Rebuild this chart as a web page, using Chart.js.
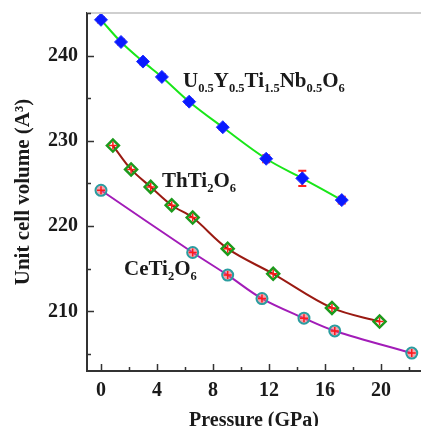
<!DOCTYPE html>
<html>
<head>
<meta charset="utf-8">
<script src="https://cdn.jsdelivr.net/npm/chart.js@4.4.0/dist/chart.umd.min.js"></script>
<style>
  html, body { margin: 0; padding: 0; background: #fff; overflow: hidden; }
  canvas { display: block; }
</style>
</head>
<body>
<canvas id="grafico" width="421" height="426"></canvas>
<script>
// Dados
const pressaoU = [0, 1.43, 3.0, 4.35, 6.3, 8.7, 11.8, 14.38, 17.2];
const volumeU  = [244.2, 241.6, 239.3, 237.5, 234.6, 231.6, 227.9, 225.6, 223.05];
const erroU    = [0.3, 0.3, 0.3, 0.3, 0.3, 0.3, 0.4, 0.9, 0.4];

const pressaoTh = [0.85, 2.15, 3.55, 5.05, 6.55, 9.05, 12.3, 16.5, 19.9];
const volumeTh  = [229.45, 226.65, 224.6, 222.45, 221.0, 217.35, 214.4, 210.4, 208.8];

const pressaoCe = [0, 6.55, 9.05, 11.5, 14.5, 16.7, 22.2];
const volumeCe  = [224.2, 216.9, 214.25, 211.5, 209.2, 207.7, 205.1];

const ticksX = [0, 4, 8, 12, 16, 20];
const ticksY = [210, 220, 230, 240];
const menoresX = [2, 6, 10, 14, 18, 22];
const menoresY = [205, 215, 225, 235, 245];

const fonte = '"Liberation Serif", "Times New Roman", serif';

function pontos(xs, ys) {
    return xs.map((x, i) => ({ x: x, y: ys[i] }));
}

// Textos com subscritos
const rotulos = [
    { x: 183, y: 87, partes: [['U', 0], ['0.5', 1], ['Y', 0], ['0.5', 1], ['Ti', 0], ['1.5', 1], ['Nb', 0], ['0.5', 1], ['O', 0], ['6', 1]] },
    { x: 162, y: 187, partes: [['ThTi', 0], ['2', 1], ['O', 0], ['6', 1]] },
    { x: 124, y: 275, partes: [['CeTi', 0], ['2', 1], ['O', 0], ['6', 1]] }
];

const pluginExtras = {
    id: 'extras',
    afterLayout(chart) {
        // a area do grafico vai ate a borda direita da imagem
        const s = chart.scales.x;
        const a = chart.chartArea;
        s.right = chart.width;
        s.width = s.right - s.left;
        s.configure();
        a.right = chart.width;
        a.width = a.right - a.left;
    },
    beforeDatasetsDraw(chart) {
        const ctx = chart.ctx;
        const sx = chart.scales.x, sy = chart.scales.y;
        // barras de erro (U)
        ctx.save();
        ctx.strokeStyle = '#ff2020';
        ctx.lineWidth = 2;
        pressaoU.forEach((p, i) => {
            const px = sx.getPixelForValue(p);
            const y1 = sy.getPixelForValue(volumeU[i] + erroU[i]);
            const y2 = sy.getPixelForValue(volumeU[i] - erroU[i]);
            ctx.beginPath();
            ctx.moveTo(px, y1); ctx.lineTo(px, y2);
            ctx.moveTo(px - 4, y1); ctx.lineTo(px + 4, y1);
            ctx.moveTo(px - 4, y2); ctx.lineTo(px + 4, y2);
            ctx.stroke();
        });
        ctx.restore();
    },
    afterDraw(chart) {
        const ctx = chart.ctx;
        const a = chart.chartArea;
        const sx = chart.scales.x, sy = chart.scales.y;
        ctx.save();
        // borda superior
        ctx.strokeStyle = '#cfcfcf';
        ctx.lineWidth = 2;
        ctx.beginPath();
        ctx.moveTo(a.left, a.top); ctx.lineTo(a.right, a.top);
        ctx.stroke();
        // ticks para dentro
        ctx.strokeStyle = '#333';
        ctx.lineWidth = 1.5;
        ctx.beginPath();
        ticksX.concat(menoresX).forEach(v => {
            const px = Math.round(sx.getPixelForValue(v)) + 0.5;
            const len = ticksX.includes(v) ? 7 : 4;
            ctx.moveTo(px, a.bottom); ctx.lineTo(px, a.bottom - len);
        });
        ticksY.concat(menoresY).forEach(v => {
            const py = Math.round(sy.getPixelForValue(v)) + 0.5;
            const len = ticksY.includes(v) ? 7 : 4;
            ctx.moveTo(a.left, py); ctx.lineTo(a.left + len, py);
        });
        ctx.stroke();
        // rotulos das series
        ctx.fillStyle = '#1a1a1a';
        ctx.textBaseline = 'alphabetic';
        rotulos.forEach(r => {
            let x = r.x;
            r.partes.forEach(([t, sub]) => {
                ctx.font = sub ? `bold 12.5px ${fonte}` : `bold 21px ${fonte}`;
                ctx.fillText(t, x, sub ? r.y + 5 : r.y);
                x += ctx.measureText(t).width;
            });
        });
        ctx.restore();
    }
};

const linha = (xs, ys, cor) => ({
    data: pontos(xs, ys),
    showLine: true,
    borderColor: cor,
    borderWidth: 2,
    pointRadius: 0,
    tension: 0.35,
    order: 5
});

new Chart(document.getElementById('grafico'), {
    type: 'scatter',
    data: {
        datasets: [
            linha(pressaoU, volumeU, '#19e619'),
            linha(pressaoTh, volumeTh, '#9a1a12'),
            linha(pressaoCe, volumeCe, '#a21cb8'),
            {
                data: pontos(pressaoU, volumeU),
                pointStyle: 'rectRot', pointRadius: 6.5,
                backgroundColor: '#0a1aff', borderColor: '#2030ff', borderWidth: 1,
                order: 2
            },
            {
                data: pontos(pressaoTh, volumeTh),
                pointStyle: 'rectRot', pointRadius: 6,
                backgroundColor: 'rgba(255,255,255,0)', borderColor: '#1c9a1c', borderWidth: 2.5,
                order: 2
            },
            {
                data: pontos(pressaoCe, volumeCe),
                pointStyle: 'circle', pointRadius: 5.5,
                backgroundColor: 'rgba(235,90,110,0.55)', borderColor: '#2a9da0', borderWidth: 2,
                order: 2
            },
            {
                data: pontos(pressaoTh, volumeTh).concat(pontos(pressaoCe, volumeCe)),
                pointStyle: 'cross', pointRadius: 4,
                borderColor: '#ff1a1a', borderWidth: 1.5,
                order: 1
            }
        ]
    },
    options: {
        responsive: false,
        animation: false,
        devicePixelRatio: 1,
        layout: { padding: { top: 13, right: 0, left: 0, bottom: 0 } },
        plugins: { legend: { display: false }, tooltip: { enabled: false } },
        scales: {
            x: {
                type: 'linear',
                min: -1,
                max: 22.86,
                afterBuildTicks: s => { s.ticks = ticksX.map(v => ({ value: v })); },
                afterFit: s => { s.height = 55; s.paddingLeft = 0; s.paddingRight = 0; },
                grid: { display: false, drawTicks: false },
                border: { display: true, color: '#333', width: 2 },
                ticks: { color: '#1a1a1a', padding: 8, font: { family: fonte, size: 20, weight: 'bold' } },
                title: {
                    display: true, text: 'Pressure (GPa)', color: '#1a1a1a',
                    font: { family: fonte, size: 20, weight: 'bold' },
                    padding: { top: 0, bottom: -7 }
                }
            },
            y: {
                type: 'linear',
                min: 203,
                max: 245,
                afterBuildTicks: s => { s.ticks = ticksY.map(v => ({ value: v })); },
                afterFit: s => { s.width = 87; s.paddingTop = 0; s.paddingBottom = 0; },
                grid: { display: false, drawTicks: false },
                border: { display: true, color: '#333', width: 2 },
                ticks: { color: '#1a1a1a', padding: 9, font: { family: fonte, size: 20, weight: 'bold' } },
                title: {
                    display: true, text: 'Unit cell volume (A³)', color: '#1a1a1a',
                    font: { family: fonte, size: 21, weight: 'bold' },
                    padding: { top: 11, bottom: 0 }
                }
            }
        }
    },
    plugins: [pluginExtras]
});
</script>
</body>
</html>
